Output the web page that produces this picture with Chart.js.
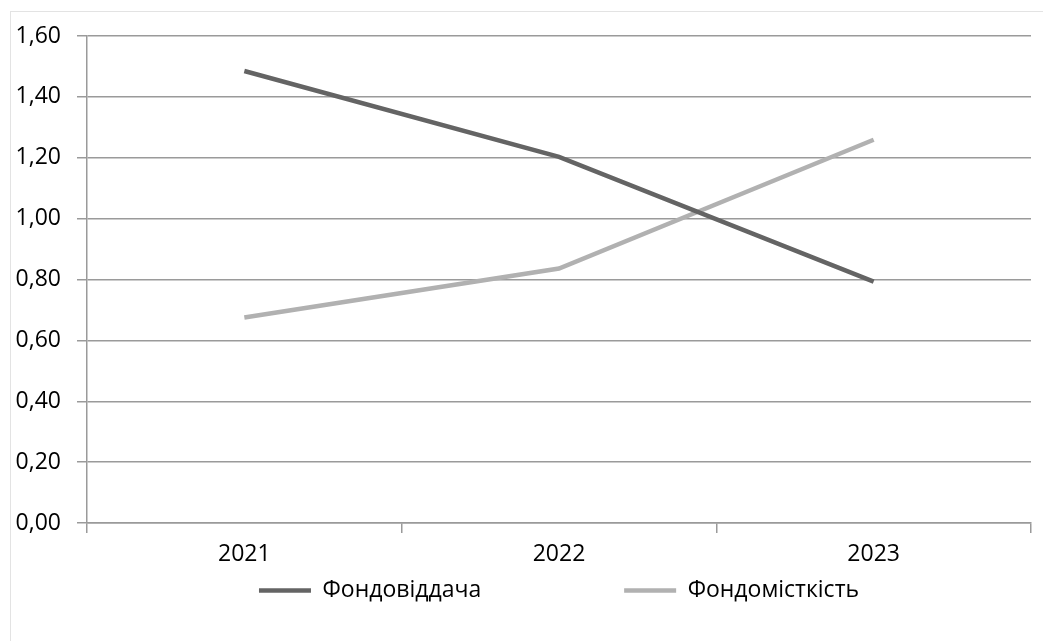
<!DOCTYPE html>
<html>
<head>
<meta charset="utf-8">
<script src="https://cdn.jsdelivr.net/npm/chart.js@4"></script>
<style>
  html, body { margin: 0; padding: 0; background: #fff; overflow: hidden; }
  #frame { position: absolute; left: 10px; top: 11px; width: 1100px; height: 700px; border: 1px solid #e3e3e3; }
  #wrap { position: absolute; left: 0; top: 0; width: 1043px; height: 641px; }
</style>
</head>
<body>
<div id="frame"></div>
<div id="wrap"><canvas id="chart"></canvas></div>
<script>
// data
const years = ['2021', '2022', '2023'];
const fondovidd = [1.485, 1.203, 0.793];
const fondomist = [0.675, 0.836, 1.259];
const seriesNames = ['Фондовіддача', 'Фондомісткість'];

const gridColor = '#9a9a9a';
const font = { family: '"Open Sans", "Liberation Sans", sans-serif', size: 23 };

const ctx = document.getElementById('chart');
const myChart = new Chart(ctx, {
  type: 'line',
  data: {
    labels: years,
    datasets: [{
      label: seriesNames[0],
      data: fondovidd,
      borderColor: '#646464',
      backgroundColor: '#646464',
      borderWidth: 4.5,
      pointRadius: 0,
      tension: 0
    }, {
      label: seriesNames[1],
      data: fondomist,
      borderColor: '#b1b1b1',
      backgroundColor: '#b1b1b1',
      borderWidth: 4.5,
      pointRadius: 0,
      tension: 0
    }]
  },
  options: {
    responsive: true,
    maintainAspectRatio: false,
    animation: false,
    layout: {
      padding: { left: 10, right: 12, top: 36, bottom: 29 }
    },
    plugins: {
      tooltip: { enabled: false },
      legend: {
        position: 'bottom',
        fullSize: false,
        labels: {
          color: '#000',
          font: font,
          usePointStyle: true,
          pointStyle: 'line',
          pointStyleWidth: 52,
          padding: 10,
          generateLabels: (chart) => {
            const items = Chart.defaults.plugins.legend.labels.generateLabels(chart);
            // widen the first item so the second one sits further right
            items[0].text = items[0].text + '\u2003\u2003\u2003\u2003\u2003   ';
            items.forEach(it => { it.pointStyle = 'line'; });
            return items;
          }
        }
      }
    },
    scales: {
      x: {
        offset: true,
        grid: {
          display: true,
          drawOnChartArea: false,
          offset: true,
          tickLength: 10,
          color: gridColor,
          lineWidth: 1.5
        },
        border: { color: gridColor, width: 1.5 },
        ticks: { color: '#000', font: font, padding: 8, maxRotation: 0 },
        afterFit: (scale) => { scale.height = 46; }
      },
      y: {
        min: 0,
        max: 1.6,
        ticks: {
          stepSize: 0.2,
          color: '#000',
          font: font,
          padding: 16,
          callback: (value) => value.toFixed(2).replace('.', ',')
        },
        grid: {
          color: gridColor,
          lineWidth: 1.5,
          tickLength: 10
        },
        border: { color: gridColor, width: 1.5 },
        afterFit: (scale) => { scale.width = 77; }
      }
    }
  }
});
</script>
</body>
</html>
